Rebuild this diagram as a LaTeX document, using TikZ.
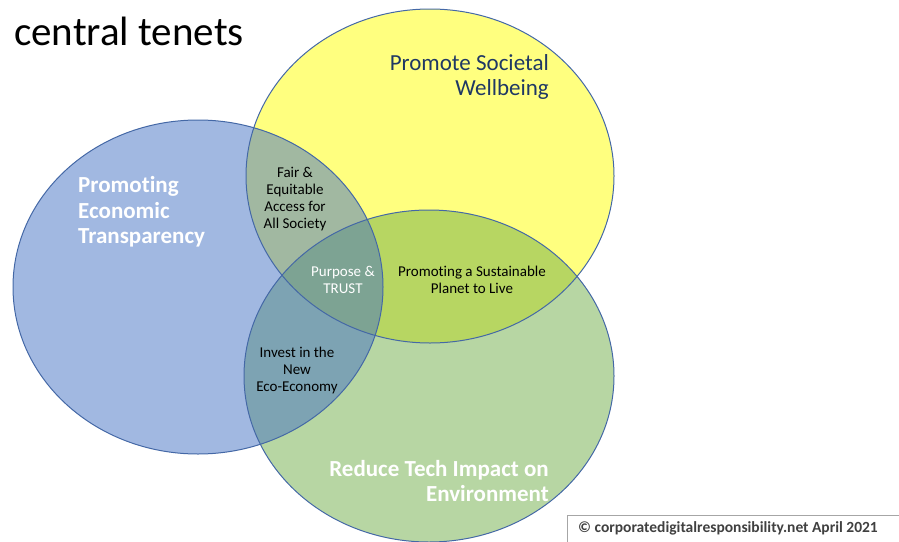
\documentclass[tikz,border=0pt]{standalone}
\usepackage{fontspec}
\setmainfont{Carlito}[Ligatures=NoCommon]
\usepackage{tikz}
\definecolor{cdrYellow}{HTML}{FFFF00}
\definecolor{cdrBlue}{HTML}{4472C4}
\definecolor{cdrGreen}{HTML}{70AD47}
\definecolor{cdrEdge}{HTML}{4468A6}
\definecolor{cdrNavy}{HTML}{1F3864}
\tikzset{
  disc/.style={fill opacity=0.5},
  rim/.style={draw=cdrEdge,line width=1pt},
  big/.style={font=\fontsize{23}{25.5}\selectfont,inner sep=0pt},
  bigbold/.style={font=\fontsize{23}{25.5}\selectfont\bfseries,inner sep=0pt,text=white},
  small/.style={font=\fontsize{15}{17}\selectfont,align=center,inner sep=0pt}
}

\begin{document}
\begin{tikzpicture}[x=1pt,y=-1pt]
          \useasboundingbox (0,0) rectangle (899,541);
          \clip (0,0) rectangle (899,541);
          \coordinate (soc) at (430,176);
          \coordinate (env) at (429,376);
          \coordinate (eco) at (198,287);
          \fill[cdrYellow,disc] (soc) ellipse [x radius=184pt,y radius=167pt];
          \fill[cdrGreen,disc] (env) ellipse [x radius=185pt,y radius=166pt];
          \fill[cdrBlue,disc] (eco) ellipse [x radius=185pt,y radius=167pt];
          \draw[rim] (soc) ellipse [x radius=184pt,y radius=167pt];
          \draw[rim] (env) ellipse [x radius=185pt,y radius=166pt];
          \draw[rim] (eco) ellipse [x radius=185pt,y radius=167pt];

          \node[anchor=base west,inner sep=0pt,font=\fontsize{41}{45}\selectfont] (title) at (14,45) {central tenets};
          \node[big,align=right,anchor=east,text=cdrNavy] (wellbeing) at (549,77) {Promote Societal\\Wellbeing};
          \node[bigbold,align=left,anchor=west] (transparency) at (78,212) {Promoting\\Economic\\Transparency};
          \node[bigbold,align=right,anchor=east] (impact) at (549,481) {Reduce Tech Impact on\\Environment};
          \node[small] (access) at (295,199) {Fair \&\\Equitable\\Access for\\All Society};
          \node[small,text=white] (trust) at (343,280) {Purpose \&\\TRUST};
          \node[small] (planet) at (472,280) {Promoting a Sustainable\\Planet to Live};
          \node[small] (invest) at (297,370) {Invest in the\\New\\Eco-Economy};

          \draw[gray!70,line width=1pt] (567,515) rectangle (910,560);
          \node[anchor=west,inner sep=0pt,text=black!75,font=\fontsize{15.5}{17}\selectfont\bfseries] (credit) at (578,528) {© corporatedigitalresponsibility.net April 2021};
        \end{tikzpicture}
\end{document}
